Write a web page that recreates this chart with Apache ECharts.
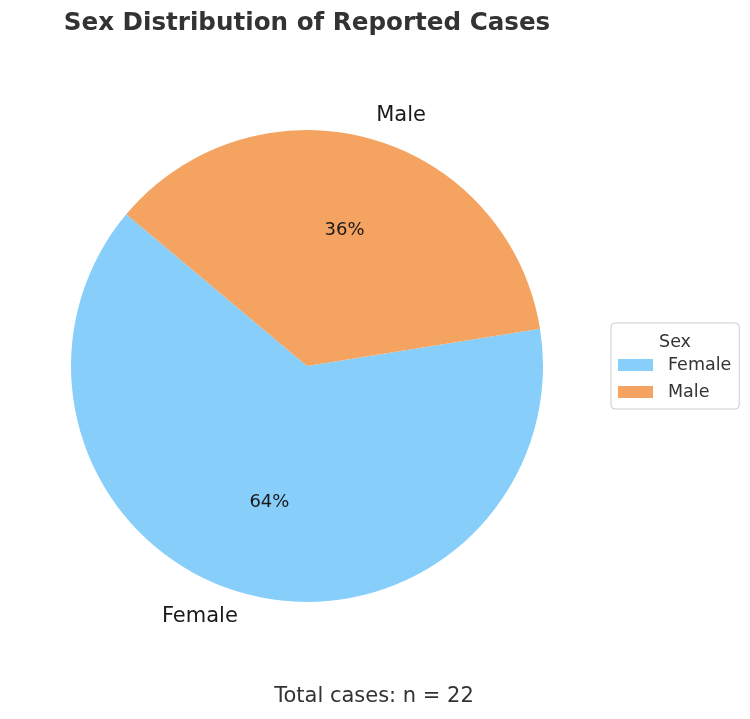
<!DOCTYPE html>
<html lang="en">
<head>
    <meta charset="UTF-8">
    <title>Sex Distribution of Reported Cases</title>
    <script src="https://cdn.jsdelivr.net/npm/echarts@6.0.0/dist/echarts.min.js"></script>
    <style>
        html, body { margin: 0; padding: 0; background: #ffffff; }
        #chart { width: 750px; height: 719px; }
    </style>
</head>
<body>
<div id="chart"></div>
<script type="text/javascript">
    // data
    var sexLabels = ['Female', 'Male'];
    var caseCounts = [14, 8];
    var sliceColors = ['#87CEFA', '#F4A460'];

    var total = caseCounts.reduce(function (a, b) { return a + b; }, 0);
    var pieData = sexLabels.map(function (name, i) {
        return { name: name, value: caseCounts[i], itemStyle: { color: sliceColors[i] } };
    });

    var font = 'DejaVu Sans';
    var cx = 307, cy = 366, R = 236;

    var myChart = echarts.init(document.getElementById('chart'));

    var option = {
        backgroundColor: '#ffffff',
        animation: false,
        title: [{
            text: 'Sex Distribution of Reported Cases',
            left: 302, top: 6, textAlign: 'center',
            textStyle: { fontFamily: font, fontSize: 24.6, fontWeight: 'bold', color: '#333333' }
        }, {
            text: 'Sex',
            left: 670, top: 328, textAlign: 'center',
            textStyle: { fontFamily: font, fontSize: 17.5, fontWeight: 'normal', color: '#333333' }
        }, {
            text: 'Total cases: n = ' + total,
            left: 369, top: 681, textAlign: 'center',
            textStyle: { fontFamily: font, fontSize: 21, fontWeight: 'normal', color: '#333333' }
        }],
        legend: {
            orient: 'vertical',
            left: 611, top: 323,
            padding: [33, 8, 8, 7],
            itemGap: 9,
            itemWidth: 35,
            itemHeight: 12,
            icon: 'rect',
            selectedMode: false,
            borderColor: '#cccccc',
            borderWidth: 1,
            borderRadius: 4,
            data: sexLabels,
            textStyle: { fontFamily: font, fontSize: 17.5, color: '#333333', padding: [0, 0, 0, 10], lineHeight: 17 }
        },
        series: [{
            name: 'Sex',
            type: 'pie',
            center: [cx, cy],
            radius: R,
            startAngle: 140,
            clockwise: false,
            avoidLabelOverlap: false,
            silent: true,
            itemStyle: { borderWidth: 0 },
            label: {
                show: true,
                position: 'outside',
                formatter: '{b}',
                distanceToLabelLine: 0,
                fontFamily: font, fontSize: 21, color: '#1a1a1a'
            },
            labelLine: { show: false, length: R * 0.1, length2: 0 },
            emphasis: { disabled: true },
            data: pieData
        }, {
            // percentage labels near 0.6 of the radius
            name: 'pct',
            type: 'pie',
            center: [cx, cy],
            radius: [R * 0.2 - 7, R],
            startAngle: 140,
            clockwise: false,
            avoidLabelOverlap: false,
            silent: true,
            itemStyle: { color: 'rgba(0,0,0,0)', borderWidth: 0 },
            label: {
                show: true,
                position: 'inside',
                formatter: function (p) { return Math.round(p.percent) + '%'; },
                fontFamily: font, fontSize: 18, color: '#1a1a1a'
            },
            labelLine: { show: false },
            emphasis: { disabled: true },
            data: sexLabels.map(function (name, i) {
                return { name: name, value: caseCounts[i], itemStyle: { color: 'rgba(0,0,0,0)' } };
            })
        }]
    };
    myChart.setOption(option);
</script>
</body>
</html>
